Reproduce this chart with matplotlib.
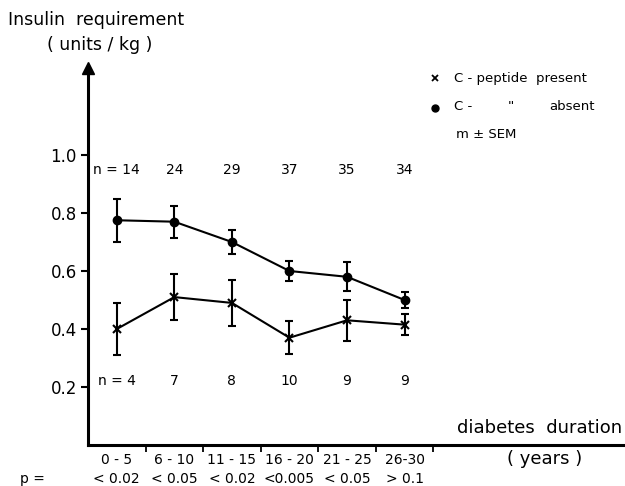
import numpy as np
import matplotlib
matplotlib.use("Agg")
import matplotlib.pyplot as plt
import matplotlib.transforms as mtransforms

# duration groups (years) and p values between the groups
durations = ["0 - 5", "6 - 10", "11 - 15", "16 - 20", "21 - 25", "26-30"]
p_values = ["< 0.02", "< 0.05", "< 0.02", "<0.005", "< 0.05", "> 0.1"]

# C-peptide absent (dots)
absent_mean = [0.775, 0.77, 0.70, 0.60, 0.58, 0.50]
absent_sem = [0.075, 0.055, 0.042, 0.033, 0.05, 0.028]
n_absent = [14, 24, 29, 37, 35, 34]

# C-peptide present (crosses)
present_mean = [0.40, 0.51, 0.49, 0.37, 0.43, 0.415]
present_sem = [0.09, 0.08, 0.078, 0.057, 0.07, 0.037]
n_present = [4, 7, 8, 10, 9, 9]

W, H = 625, 486
plt.rcParams['font.family'] = 'DejaVu Sans'

fig = plt.figure(figsize=(W / 100, H / 100), dpi=100)
# axes placed in pixel terms: y axis at x=88, x axis at y=445, arrow tip at y=68
ax = fig.add_axes([88 / W, (H - 445) / H, (W - 88) / W, (445 - 68) / H])

x = np.arange(len(durations))
ax.errorbar(x, absent_mean, yerr=absent_sem, fmt='-o', color='black',
            lw=1.5, ms=6, capsize=3, elinewidth=1.5, capthick=1.5)
ax.errorbar(x, present_mean, yerr=present_sem, fmt='-x', color='black',
            lw=1.5, ms=6, mew=1.5, capsize=3, elinewidth=1.5, capthick=1.5)

ax.set_xlim(-0.5, 8.83)
ax.set_ylim(0, 1.3)

for s in ['top', 'right']:
    ax.spines[s].set_visible(False)
for s in ['left', 'bottom']:
    ax.spines[s].set_linewidth(2.2)

# arrow head on y axis
ax.plot(0, 1, marker='^', color='black', ms=8, transform=ax.transAxes, clip_on=False)

ax.set_yticks([0.2, 0.4, 0.6, 0.8, 1.0])
ax.set_yticklabels(["0.2", "0.4", "0.6", "0.8", "1.0"])
ax.tick_params(axis='y', direction='out', length=5, width=1.5, labelsize=12, pad=3)

ax.set_xticks(x)
ax.set_xticklabels(durations)
ax.set_xticks(np.arange(len(durations)) + 0.5, minor=True)
ax.tick_params(axis='x', which='major', length=0, labelsize=10, pad=6)
ax.tick_params(axis='x', which='minor', direction='out', length=5, width=1.3)

# sample sizes
for i in range(len(durations)):
    lab_a = "n = %d" % n_absent[i] if i == 0 else str(n_absent[i])
    lab_p = "n = %d" % n_present[i] if i == 0 else str(n_present[i])
    ax.text(x[i], 0.95, lab_a, ha='center', va='center', fontsize=10)
    ax.text(x[i], 0.22, lab_p, ha='center', va='center', fontsize=10)

# p values row below the categories
trans = mtransforms.blended_transform_factory(ax.transData, fig.transFigure)
for i, p in enumerate(p_values):
    ax.text(x[i], 1 - 479 / H, p, ha='center', va='center', fontsize=10,
            transform=trans)
fig.text(20 / W, 1 - 479 / H, "p =", ha='left', va='center', fontsize=10)

# axis titles
fig.text(8 / W, 1 - 20 / H, "Insulin  requirement", ha='left', va='center', fontsize=12.5)
fig.text(100 / W, 1 - 45 / H, "( units / kg )", ha='center', va='center', fontsize=12.5)
fig.text(540 / W, 1 - 428 / H, "diabetes  duration", ha='center', va='center', fontsize=13)
fig.text(545 / W, 1 - 459 / H, "( years )", ha='center', va='center', fontsize=13)

# legend written as text
ax.plot(435 / W, 1 - 78 / H, marker='x', color='black', ms=5, mew=1.3,
        transform=fig.transFigure, clip_on=False)
ax.plot(435 / W, 1 - 108 / H, marker='o', color='black', ms=5,
        transform=fig.transFigure, clip_on=False)
fig.text(454 / W, 1 - 78 / H, "C - peptide  present", ha='left', va='center', fontsize=9.5)
fig.text(454 / W, 1 - 107 / H, "C -", ha='left', va='center', fontsize=9.5)
fig.text(508 / W, 1 - 107 / H, "''", ha='left', va='center', fontsize=9.5)
fig.text(549 / W, 1 - 107 / H, "absent", ha='left', va='center', fontsize=9.5)
fig.text(456 / W, 1 - 135 / H, "m \u00b1 SEM", ha='left', va='center', fontsize=9.5)

fig.savefig("out.png", dpi=100)
